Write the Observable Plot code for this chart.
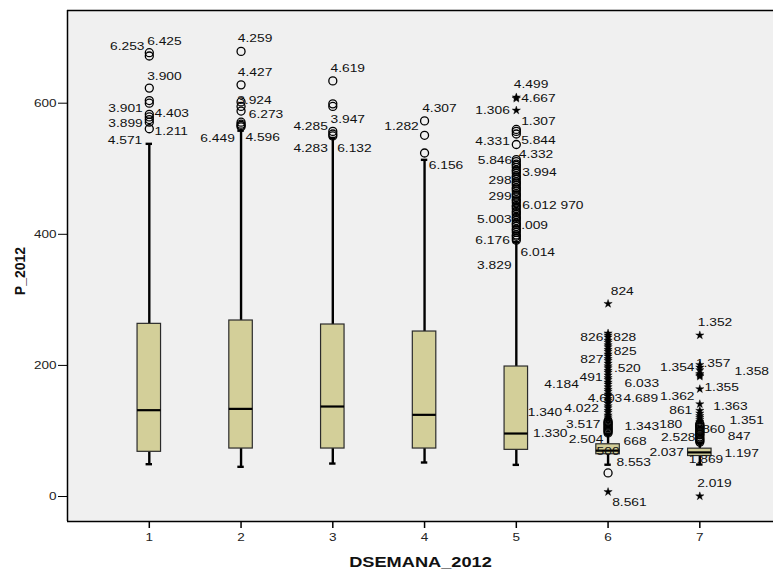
<!DOCTYPE html>
<html><head><meta charset="utf-8">
<script src="https://cdn.jsdelivr.net/npm/d3@7"></script>
<script src="https://cdn.jsdelivr.net/npm/@observablehq/plot@0.6"></script>
<style>body{margin:0;background:#fff;overflow:hidden}</style>
</head><body><div id="chart"></div>
<script>
// ---- data ----
const groups = [1, 2, 3, 4, 5, 6, 7];
const tickLabels = ["1", "2", "3", "4", "5", "6", "7"];
const yTicks = [0, 200, 400, 600];
const xTitle = "DSEMANA_2012";
const yTitle = "P_2012";

const whiskerLow  = [49.3, 45.3, 50.3, 51.9, 48.3, 48.5, 48.8];
const q1          = [68.2, 73.2, 73.2, 73.2, 71.2, 64.5, 61.8];
const median      = [131.7, 133.7, 137.3, 124.6, 96.1, 70.0, 67.3];
const q3          = [263.4, 268.5, 262.4, 251.7, 198.3, 79.7, 73.0];
const whiskerHigh = [538, 558, 547, 513.6, 388, 95, 82];

// mild outliers (circles), per group
const circles = [
  [677, 672, 623, 604, 600, 583, 579, 575, 571, 561],
  [679, 628, 602, 595, 588, 571, 568, 566, 564],
  [634, 599, 595, 557, 553, 550],
  [573, 551, 524],
  [560, 557, 553, 537, 514, 511, 507, 505, 502, 498, 496, 493, 489, 487, 484, 480, 478, 475, 471, 469, 466, 462, 460, 457, 453, 451, 448, 444, 442, 439, 435, 433, 430, 426, 424, 421, 417, 415, 412, 408, 406, 403, 399, 397, 394, 391],
  [115, 113, 111, 109, 107, 105, 103, 101, 99, 97, 36],
  [111, 109, 107, 106, 103, 101, 99, 97, 95, 94, 91, 89, 87, 85, 83]
];
// extreme outliers (stars), per group
const stars = [
  [], [], [], [],
  [609, 607, 589],
  [294, 249, 246, 243, 238, 235, 231, 228, 224, 221, 217, 214, 210, 207, 203, 199, 196, 192, 189, 185, 181, 178, 174, 171, 167, 163, 160, 156, 153, 149, 146, 142, 138, 135, 131, 128, 124, 121, 118, 7],
  [246, 201, 197, 193, 187, 185, 183, 164, 141, 131, 127, 123, 120, 117, 114, 0.5]
];

// case labels: [text, x (DSEMANA units), y (P_2012 units), anchor]
const caseLabels = [
  ["6.253", 0.948, 687, "end"], ["6.425", 0.977, 694.6, "start"], ["3.900", 0.977, 641.2, "start"],
  ["3.901", 0.929, 592.4, "end"], ["4.403", 1.057, 583.8, "start"], ["3.899", 0.929, 568.6, "end"],
  ["1.211", 1.057, 556.8, "start"], ["4.571", 0.923, 543.1, "end"],
  ["4.259", 1.965, 699, "start"], ["4.427", 1.965, 646.4, "start"], ["3.924", 1.958, 604.1, "start"],
  ["6.273", 2.084, 582.3, "start"], ["6.449", 1.932, 545.7, "end"], ["4.596", 2.048, 547.2, "start"],
  ["4.619", 2.975, 652.5, "start"], ["4.285", 2.946, 564.5, "end"], ["3.947", 2.975, 574.7, "start"],
  ["4.283", 2.946, 530.4, "end"], ["6.132", 3.048, 530.4, "start"],
  ["4.307", 3.974, 591.5, "start"], ["1.282", 3.937, 564.9, "end"], ["6.156", 4.046, 505, "start"],
  ["4.499", 4.973, 628, "start"], ["4.667", 5.053, 606.7, "start"], ["1.306", 4.929, 588.9, "end"],
  ["1.307", 5.053, 572.6, "start"], ["4.331", 4.929, 541.1, "end"], ["5.844", 5.053, 543.1, "start"],
  ["4.332", 5.027, 521.3, "start"], ["5.846", 4.955, 512.6, "end"], ["3.994", 5.064, 493.8, "start"],
  ["298", 4.948, 482.1, "end"], ["299", 4.948, 457.7, "end"], ["6.012 970", 5.064, 443.5, "start"],
  ["5.003", 4.948, 422.1, "end"], [".009", 5.053, 413.4, "start"], ["6.176", 4.929, 390.5, "end"],
  ["6.014", 5.046, 372.7, "start"], ["3.829", 4.948, 352.4, "end"],
  ["824", 6.029, 313.2, "start"], ["826", 5.948, 243, "end"], ["828", 6.057, 243, "start"],
  ["825", 6.061, 221.2, "start"], ["827", 5.948, 208.5, "end"], [".520", 6.064, 195.7, "start"],
  ["491", 5.940, 182, "end"], ["4.184", 5.681, 170.4, "end"], ["6.033", 6.180, 171.9, "start"],
  ["4.603", 5.779, 150, "start"], ["4.689", 6.169, 150, "start"], ["4.022", 5.899, 134.7, "end"],
  ["1.340", 5.500, 128.6, "end"], ["3.517", 5.917, 109.4, "end"], ["1.343", 6.180, 106.8, "start"],
  ["1.330", 5.558, 96.6, "end"], ["2.504", 5.948, 86.5, "end"], ["668", 6.169, 83.9, "start"],
  ["500", 6.0, 69.1, "middle"], ["8.553", 6.091, 51.4, "start"], ["8.561", 6.045, -8.7, "start"],
  ["1.352", 6.978, 265, "start"], ["1.354", 6.942, 197.3, "end"], ["1.357", 6.957, 202.4, "start"],
  ["1.358", 7.378, 191.2, "start"], ["1.355", 7.050, 166.8, "start"], ["1.362", 6.942, 153, "end"],
  ["1.363", 7.146, 137.8, "start"], ["861", 6.917, 131.2, "end"], ["1.351", 7.323, 115.9, "start"],
  ["180", 6.808, 109.4, "end"], ["860", 7.026, 102.2, "start"], ["847", 7.305, 92, "start"],
  ["2.528", 6.953, 89.5, "end"], ["2.037", 6.826, 66.7, "end"], ["1.197", 7.268, 66.1, "start"],
  ["1.869", 6.880, 56, "start"], ["2.019", 6.971, 19.4, "start"]
];

// ---- build tables ----
const boxes = groups.map((g, i) => ({g, lo: whiskerLow[i], q1: q1[i], med: median[i], q3: q3[i], hi: whiskerHigh[i]}));
const circlePts = groups.flatMap((g, i) => circles[i].map(v => ({g, v})));
const starPts = groups.flatMap((g, i) => stars[i].map(v => ({g, v})));
const labels = caseLabels.map(([t, x, y, a]) => ({t, x, y, a}));

const xDomain = [0.1085, 7.803];
const yDomain = [-38.1, 741.4];
const halfBox = 0.128, halfCap = 0.035;
const fontFamily = "'Liberation Sans', Arial, sans-serif";
const ink = "#111";

const labelMark = anchor => Plot.text(labels.filter(d => d.a === anchor), {
  x: "x", y: "y", text: "t", textAnchor: anchor, fontSize: 10.6, fill: ink
});

const chart = Plot.plot({
  width: 773, height: 571,
  marginLeft: 67, marginRight: 0, marginTop: 10, marginBottom: 50,
  style: {fontFamily, background: "#fff", overflow: "visible"},
  x: {domain: xDomain, axis: null},
  y: {domain: yDomain, axis: null},
  marks: [
    Plot.frame({fill: "#f0f0f0", stroke: null}),
    Plot.ruleX([xDomain[0]], {stroke: "#000", strokeWidth: 1.5}),
    Plot.ruleY([yDomain[0], yDomain[1]], {stroke: "#000", strokeWidth: 1.5}),
    Plot.axisY(yTicks, {tickSize: 9, tickPadding: 2, fontSize: 10.4, label: null, stroke: "#000", fill: "#222"}),
    Plot.axisX(groups, {tickSize: 7, tickPadding: 5, fontSize: 10.4, label: null, stroke: "#000", strokeWidth: 1.5, fill: "#222",
      tickFormat: d => tickLabels[groups.indexOf(d)]}),
    // whiskers
    Plot.ruleX(boxes, {x: "g", y1: "q3", y2: "hi", stroke: "#000", strokeWidth: 2.4}),
    Plot.ruleX(boxes, {x: "g", y1: "lo", y2: "q1", stroke: "#000", strokeWidth: 2.4}),
    Plot.ruleY(boxes, {y: "hi", x1: d => d.g - halfCap, x2: d => d.g + halfCap, stroke: "#000", strokeWidth: 2.4}),
    Plot.ruleY(boxes, {y: "lo", x1: d => d.g - halfCap, x2: d => d.g + halfCap, stroke: "#000", strokeWidth: 2.4}),
    // boxes
    Plot.rect(boxes, {x1: d => d.g - halfBox, x2: d => d.g + halfBox, y1: "q1", y2: "q3", fill: "#d3cf99", stroke: "#2b2b2b", strokeWidth: 1.2}),
    Plot.ruleY(boxes, {y: "med", x1: d => d.g - halfBox, x2: d => d.g + halfBox, stroke: "#000", strokeWidth: 2.2}),
    // labels
    labelMark("start"), labelMark("end"), labelMark("middle"),
    // outliers
    Plot.dot(circlePts, {x: "g", y: "v", r: 4, stroke: "#000", strokeWidth: 1.3, fill: "none"}),
    Plot.dot(starPts, {x: "g", y: "v", r: 2.6, symbol: "star", fill: "#000", stroke: "#000", strokeWidth: 0.4}),
    // titles
    Plot.text([xTitle], {frameAnchor: "bottom", lineAnchor: "middle", textAnchor: "middle", dy: 41, fontSize: 14, fontWeight: "bold", fill: ink}),
    Plot.text([yTitle], {frameAnchor: "left", lineAnchor: "middle", textAnchor: "middle", dx: -47, dy: 5, rotate: -90, fontSize: 14, fontWeight: "bold", fill: ink})
  ]
});

document.getElementById("chart").append(chart);

// The reference's lettering is horizontally widened; reproduce that stretch.
const STRETCH = 1.3;
chart.querySelectorAll("text").forEach(t => {
  const tr = (t.getAttribute("transform") || "") + (t.parentNode.getAttribute("transform") || "");
  if (tr.includes("rotate")) return;
  const len = t.getComputedTextLength();
  if (len > 0) {
    t.setAttribute("textLength", (len * STRETCH).toFixed(2));
    t.setAttribute("lengthAdjust", "spacingAndGlyphs");
  }
});
</script>
</body></html>
